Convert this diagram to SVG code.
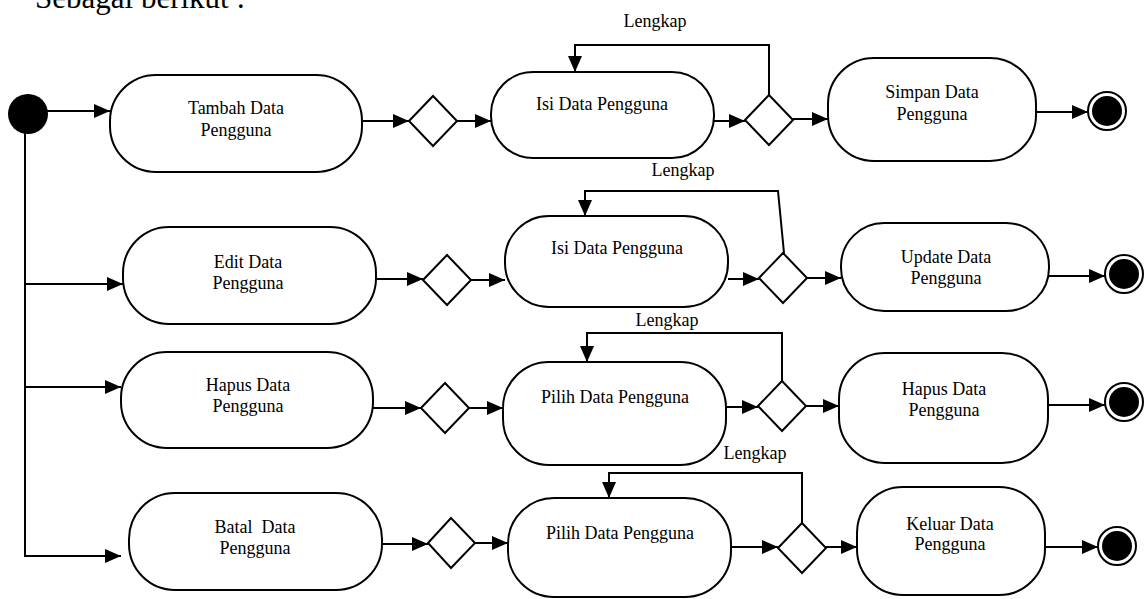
<svg xmlns="http://www.w3.org/2000/svg" width="1146" height="599" viewBox="0 0 1146 599">
<defs>
<marker id="ah" markerUnits="userSpaceOnUse" markerWidth="16" markerHeight="14" refX="16" refY="7" orient="auto">
<path d="M0,0 L16,7 L0,14 z" fill="#000"/>
</marker>
<style>
.n{fill:#fff;stroke:#000;stroke-width:2}
.d{fill:#fff;stroke:#000;stroke-width:2}
.c{fill:none;stroke:#000;stroke-width:2;marker-end:url(#ah)}
.e{fill:#fff;stroke:#000;stroke-width:2}
</style>
</defs>
<rect width="1146" height="599" fill="#fff"/>
<g font-family="'Liberation Serif', 'Times New Roman', 'DejaVu Serif', serif" font-size="18" fill="#000" text-anchor="middle">
<text x="35" y="8" font-size="31" text-anchor="start">Sebagai berikut :</text>

<g id="connectors">
<line class="c" x1="46" y1="111" x2="110" y2="111"/>
<path class="c" d="M25,130 V556 H121"/>
<line class="c" x1="25" y1="284" x2="123" y2="284"/>
<line class="c" x1="25" y1="387" x2="121" y2="387"/>

<line class="c" x1="362" y1="121" x2="409" y2="121"/>
<line class="c" x1="457" y1="121" x2="491" y2="121"/>
<line class="c" x1="714" y1="121" x2="745" y2="121"/>
<path class="c" d="M769,95 V45 H575 V72"/>
<line class="c" x1="793" y1="119" x2="828" y2="119"/>
<line class="c" x1="1034" y1="112" x2="1088" y2="112"/>

<line class="c" x1="376" y1="279" x2="423" y2="279"/>
<line class="c" x1="471" y1="280" x2="505" y2="280"/>
<line class="c" x1="728" y1="279" x2="759" y2="279"/>
<path class="c" d="M784,253 L778,191 H585 V216"/>
<line class="c" x1="807" y1="278" x2="841" y2="278"/>
<line class="c" x1="1048" y1="276" x2="1105" y2="276"/>

<line class="c" x1="373" y1="408" x2="421" y2="408"/>
<line class="c" x1="469" y1="408" x2="503" y2="408"/>
<line class="c" x1="726" y1="407" x2="758" y2="407"/>
<path class="c" d="M782,381 V333 H587 V362"/>
<line class="c" x1="806" y1="406" x2="839" y2="406"/>
<line class="c" x1="1048" y1="405" x2="1105" y2="405"/>

<line class="c" x1="382" y1="544" x2="428" y2="544"/>
<line class="c" x1="475" y1="543" x2="508" y2="543"/>
<line class="c" x1="731" y1="547" x2="778" y2="547"/>
<path class="c" d="M802,523 V473 H609 V498"/>
<line class="c" x1="825" y1="547" x2="857" y2="547"/>
<line class="c" x1="1045" y1="547" x2="1098" y2="547"/>

<text x="655" y="27">Lengkap</text>
<text x="683" y="176">Lengkap</text>
<text x="667" y="326">Lengkap</text>
<text x="755" y="459">Lengkap</text>
</g>

<g id="start"><circle cx="28" cy="114" r="20" fill="#000"/></g>

<g id="tambah"><rect class="n" x="110" y="75" width="252" height="97" rx="46"/><text x="236" y="114">Tambah Data</text><text x="236" y="136">Pengguna</text></g>
<g id="dec1"><polygon class="d" points="409,121 433,96 457,121 433,146"/></g>
<g id="isi1"><rect class="n" x="491" y="72" width="223" height="86" rx="42"/><text x="602" y="110">Isi Data Pengguna</text></g>
<g id="dec2"><polygon class="d" points="745,120 769,95 793,120 769,145"/></g>
<g id="simpan"><rect class="n" x="828" y="58" width="208" height="103" rx="46"/><text x="932" y="98">Simpan Data</text><text x="932" y="120">Pengguna</text></g>
<g id="end1"><circle class="e" cx="1107" cy="111" r="19"/><circle cx="1107" cy="111" r="15" fill="#000"/></g>

<g id="edit"><rect class="n" x="123" y="227" width="253" height="97" rx="46"/><text x="248" y="268">Edit Data</text><text x="248" y="289">Pengguna</text></g>
<g id="dec3"><polygon class="d" points="423,280 447,255 471,280 447,305"/></g>
<g id="isi2"><rect class="n" x="505" y="216" width="223" height="91" rx="44"/><text x="617" y="254">Isi Data Pengguna</text></g>
<g id="dec4"><polygon class="d" points="759,278 783,253 807,278 783,303"/></g>
<g id="update"><rect class="n" x="841" y="223" width="208" height="88" rx="43"/><text x="946" y="263">Update Data</text><text x="946" y="284">Pengguna</text></g>
<g id="end2"><circle class="e" cx="1124" cy="274" r="19"/><circle cx="1124" cy="274" r="15" fill="#000"/></g>

<g id="hapus"><rect class="n" x="121" y="352" width="252" height="96" rx="46"/><text x="248" y="391">Hapus Data</text><text x="248" y="412">Pengguna</text></g>
<g id="dec5"><polygon class="d" points="421,408 445,383 469,408 445,433"/></g>
<g id="pilih1"><rect class="n" x="503" y="362" width="223" height="103" rx="46"/><text x="615" y="403">Pilih Data Pengguna</text></g>
<g id="dec6"><polygon class="d" points="758,406 782,381 806,406 782,431"/></g>
<g id="hapus2"><rect class="n" x="839" y="353" width="209" height="110" rx="46"/><text x="944" y="395">Hapus Data</text><text x="944" y="416">Pengguna</text></g>
<g id="end3"><circle class="e" cx="1124" cy="402" r="19"/><circle cx="1124" cy="402" r="15" fill="#000"/></g>

<g id="batal"><rect class="n" x="129" y="493" width="253" height="97" rx="46"/><text x="255" y="533" xml:space="preserve">Batal  Data</text><text x="255" y="554">Pengguna</text></g>
<g id="dec7"><polygon class="d" points="428,543 451,518 475,543 451,568"/></g>
<g id="pilih2"><rect class="n" x="508" y="498" width="223" height="99" rx="46"/><text x="620" y="539">Pilih Data Pengguna</text></g>
<g id="dec8"><polygon class="d" points="778,548 802,523 826,548 802,573"/></g>
<g id="keluar"><rect class="n" x="857" y="487" width="188" height="108" rx="46"/><text x="950" y="530">Keluar Data</text><text x="950" y="550">Pengguna</text></g>
<g id="end4"><circle class="e" cx="1117" cy="546" r="19"/><circle cx="1117" cy="546" r="15" fill="#000"/></g>
</g>
</svg>
